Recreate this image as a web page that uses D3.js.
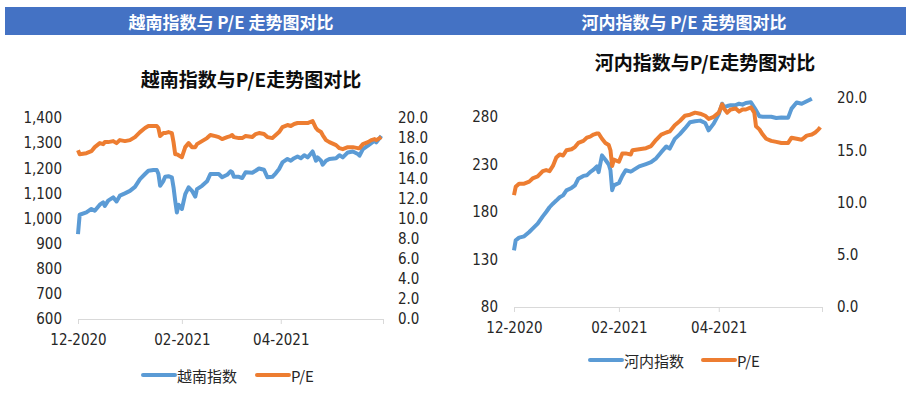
<!DOCTYPE html>
<html>
<head>
<meta charset="utf-8">
<script src="https://cdn.jsdelivr.net/npm/d3@7"></script>
<style>
  body { margin: 0; background: #fff; }
  .axis text { font-family: "DejaVu Sans Condensed", "Liberation Sans", sans-serif; font-size: 15px; fill: #262626; }
  .cjk { font-family: "Noto Sans CJK SC", sans-serif; }
</style>
</head>
<body>
<div id="chart"></div>
<script>
// x axis ticks (Excel date axis, 2 month major unit)
const xTicks = ["2020-12-01", "2021-02-01", "2021-04-01", "2021-06-01"];
const xTickLabels = ["12-2020", "02-2021", "04-2021", ""];

// 越南指数 vs P/E
const vnDates = [
  "2020-12-01","2020-12-02","2020-12-06","2020-12-09","2020-12-11","2020-12-14","2020-12-16","2020-12-17","2020-12-19","2020-12-22","2020-12-24","2020-12-26","2020-12-29",
  "2021-01-01","2021-01-04","2021-01-07","2021-01-10","2021-01-12","2021-01-15","2021-01-17","2021-01-18","2021-01-19","2021-01-21","2021-01-22","2021-01-24","2021-01-26","2021-01-27","2021-01-28","2021-01-29","2021-01-30",
  "2021-02-01","2021-02-03","2021-02-05","2021-02-07","2021-02-09","2021-02-10","2021-02-13","2021-02-16","2021-02-18","2021-02-21","2021-02-23","2021-02-25","2021-02-28",
  "2021-03-02","2021-03-03","2021-03-04","2021-03-07","2021-03-09","2021-03-11","2021-03-15","2021-03-17","2021-03-19","2021-03-22","2021-03-24","2021-03-27","2021-03-29","2021-03-31",
  "2021-04-02","2021-04-05","2021-04-07","2021-04-09","2021-04-11","2021-04-13","2021-04-15","2021-04-17","2021-04-20","2021-04-22","2021-04-23","2021-04-25","2021-04-26","2021-04-28","2021-04-30",
  "2021-05-04","2021-05-06","2021-05-08","2021-05-11","2021-05-14","2021-05-17","2021-05-18","2021-05-20","2021-05-23","2021-05-25","2021-05-27","2021-05-28","2021-05-30","2021-05-31"
];
const vnIndex = [
  938,1015,1024,1038,1031,1055,1064,1050,1071,1084,1068,1091,1100,
  1110,1126,1157,1177,1190,1193,1193,1177,1130,1150,1166,1168,1164,1124,1071,1024,1055,
  1038,1097,1124,1110,1087,1117,1130,1148,1177,1177,1177,1164,1174,
  1188,1184,1166,1166,1161,1184,1182,1190,1199,1194,1164,1166,1180,1197,
  1223,1237,1230,1240,1247,1240,1252,1243,1267,1230,1243,1230,1214,1230,1237,
  1240,1252,1243,1263,1267,1257,1250,1276,1290,1300,1310,1303,1320,1329
];
const vnPE = [
  16.8,16.4,16.5,16.7,17.1,17.5,17.4,17.6,17.6,17.7,17.5,17.8,17.7,
  17.8,18.1,18.6,19.0,19.2,19.2,19.2,19.0,18.2,18.5,18.5,18.6,18.5,17.6,16.4,16.4,16.3,
  16.1,17.1,17.5,17.1,17.1,17.4,17.7,18.0,18.3,18.2,18.1,17.9,18.1,
  18.2,18.3,18.1,18.0,18.0,18.2,18.1,18.4,18.5,18.4,18.1,18.0,18.3,18.6,
  19.1,19.3,19.2,19.4,19.5,19.5,19.5,19.5,19.7,19.0,18.8,18.6,18.3,17.8,17.6,
  17.3,17.0,16.9,17.1,17.1,17.0,17.0,17.4,17.6,17.8,17.9,17.8,18.0,18.1
];
const vnTicks = [600, 700, 800, 900, 1000, 1100, 1200, 1300, 1400];

// 河内指数 vs P/E
const hnDates = [
  "2020-12-01","2020-12-02","2020-12-04","2020-12-07","2020-12-10","2020-12-12","2020-12-15","2020-12-18","2020-12-20","2020-12-22","2020-12-24","2020-12-26","2020-12-28","2020-12-30",
  "2021-01-01","2021-01-04","2021-01-06","2021-01-08","2021-01-11","2021-01-13","2021-01-15","2021-01-17","2021-01-19","2021-01-20","2021-01-22","2021-01-24","2021-01-26","2021-01-27","2021-01-28","2021-01-29",
  "2021-02-01","2021-02-03","2021-02-05","2021-02-08","2021-02-09","2021-02-13","2021-02-17","2021-02-20","2021-02-23","2021-02-26",
  "2021-03-01","2021-03-03","2021-03-06","2021-03-09","2021-03-12","2021-03-15","2021-03-18","2021-03-21","2021-03-24","2021-03-26","2021-03-29",
  "2021-04-01","2021-04-03","2021-04-04","2021-04-06","2021-04-08","2021-04-11","2021-04-13","2021-04-15","2021-04-17","2021-04-20","2021-04-22","2021-04-23","2021-04-25","2021-04-27","2021-04-29",
  "2021-05-02","2021-05-05","2021-05-08","2021-05-12","2021-05-14","2021-05-17","2021-05-20","2021-05-23","2021-05-26","2021-05-28","2021-05-30","2021-05-31"
];
const hnIndex = [
  139.6,150.2,153,154.4,159,162.5,167.7,175.4,180,185,188.8,192,195.5,197.5,
  202.8,205.3,208,215,218,218.6,222,224.5,228,222,239.6,235,230,224,203,208,
  210.5,218,223.9,222.5,223.5,228,230.5,232.5,236.5,243,
  249,246.7,257,262,268,274.5,275.5,276.2,273.7,266,273,
  283,294,290.5,291.5,292.3,292.5,294,293,294.7,295.5,290,287,280.7,280.3,280.2,
  280.2,279,279.5,279.3,288.8,295.2,294,296.6,299.3,null,null,null
];
const hnPE = [
  10.7,11.5,11.8,11.8,12.0,12.3,12.5,13.0,13.1,13.0,13.5,14.3,14.6,14.5,
  15.0,15.1,15.3,15.7,15.9,16.2,16.3,16.5,16.6,16.6,16.1,15.7,15.5,15.0,13.5,14.1,
  13.9,14.7,14.7,14.6,15.0,15.1,15.2,15.4,16.0,16.5,
  16.7,16.8,17.4,17.8,18.3,18.4,18.6,18.5,18.3,18.0,18.2,
  18.6,19.4,19.0,18.6,18.9,19.0,18.7,18.9,18.9,19.1,18.6,17.3,17.0,16.5,16.1,
  15.9,15.8,15.7,15.7,16.2,16.1,16.0,16.4,16.5,16.7,17.0,17.2
];
const hnTicks = [80, 130, 180, 230, 280];

const peTicksVN = [0, 2, 4, 6, 8, 10, 12, 14, 16, 18, 20];
const peTicksHN = [0, 5, 10, 15, 20];

const headers = ["越南指数与 P/E 走势图对比", "河内指数与 P/E 走势图对比"];

const BLUE = "#5B9BD5", ORANGE = "#ED7D31";
const parse = d3.timeParse("%Y-%m-%d");

const svg = d3.select("#chart").append("svg")
  .attr("width", 911).attr("height", 393);

// header band
svg.append("rect")
  .attr("x", 5).attr("y", 7).attr("width", 901).attr("height", 28)
  .attr("fill", "#4472C4");
svg.selectAll(".hdr").data(headers).enter().append("text")
  .attr("class", "hdr cjk")
  .attr("x", (d, i) => i === 0 ? 231 : 684)
  .attr("y", 21)
  .attr("text-anchor", "middle")
  .attr("dominant-baseline", "central")
  .attr("font-size", "17px").attr("font-weight", "bold").attr("fill", "#fff")
  .text(d => d);

function drawChart(c) {
  const x = d3.scaleTime()
    .domain([parse(xTicks[0]), parse(xTicks[xTicks.length - 1])])
    .range([c.left, c.right]);
  const yL = d3.scaleLinear().domain(c.leftDomain).range([c.bottom, c.top]);
  const yR = d3.scaleLinear().domain([0, 20]).range([c.bottom, c.top]);

  const g = svg.append("g");

  // title
  g.append("text").attr("class", "cjk")
    .attr("x", c.titleX).attr("y", c.titleY)
    .attr("text-anchor", "middle").attr("dominant-baseline", "central")
    .attr("font-size", "19px").attr("font-weight", "bold").attr("fill", "#0d0d0d")
    .text(c.title);

  // x axis
  const xa = g.append("g").attr("class", "axis")
    .attr("transform", `translate(0,${c.bottom})`)
    .call(d3.axisBottom(x)
      .tickValues(xTicks.map(parse))
      .tickFormat((d, i) => xTickLabels[i])
      .tickSize(5).tickSizeOuter(0).tickPadding(10));
  xa.select(".domain").attr("stroke", "#d9d9d9");
  xa.selectAll(".tick line").attr("stroke", "#d9d9d9");

  // left axis
  const la = g.append("g").attr("class", "axis")
    .attr("transform", `translate(${c.left},0)`)
    .call(d3.axisLeft(yL).tickValues(c.leftTicks).tickFormat(c.leftFmt)
      .tickSize(0).tickPadding(16));
  la.select(".domain").remove();

  // right axis
  const ra = g.append("g").attr("class", "axis")
    .attr("transform", `translate(${c.right},0)`)
    .call(d3.axisRight(yR).tickValues(c.rightTicks).tickFormat(d3.format(".1f"))
      .tickSize(0).tickPadding(15));
  ra.select(".domain").remove();

  const dates = c.dates.map(parse);

  const idxLine = d3.line()
    .defined(d => d[1] != null)
    .x(d => x(d[0])).y(d => yL(d[1]));
  const peLine = d3.line()
    .defined(d => d[1] != null)
    .x(d => x(d[0])).y(d => yR(d[1]));

  g.append("path")
    .datum(dates.map((d, i) => [d, c.index[i]]))
    .attr("d", idxLine)
    .attr("fill", "none").attr("stroke", BLUE)
    .attr("stroke-width", 4).attr("stroke-linejoin", "round");

  g.append("path")
    .datum(dates.map((d, i) => [d, c.pe[i]]))
    .attr("d", peLine)
    .attr("fill", "none").attr("stroke", ORANGE)
    .attr("stroke-width", 4).attr("stroke-linejoin", "round");

  // legend
  const leg = g.append("g").attr("transform", `translate(${c.legX},${c.legY})`);
  const items = [[c.seriesName, BLUE, 0], ["P/E", ORANGE, c.legGap]];
  items.forEach(([name, col, dx]) => {
    leg.append("line")
      .attr("x1", dx).attr("x2", dx + 32).attr("y1", 0).attr("y2", 0)
      .attr("stroke", col).attr("stroke-width", 4).attr("stroke-linecap", "round");
    leg.append("text").attr("class", "cjk")
      .attr("x", dx + 34).attr("y", 0)
      .attr("dominant-baseline", "central")
      .attr("font-size", "15px").attr("fill", "#262626")
      .text(name);
  });
}

drawChart({
  title: "越南指数与P/E走势图对比", titleX: 251, titleY: 78,
  left: 78, right: 383, top: 118, bottom: 319,
  leftDomain: [600, 1400], leftTicks: vnTicks, leftFmt: d3.format(","),
  rightTicks: peTicksVN,
  dates: vnDates, index: vnIndex, pe: vnPE,
  seriesName: "越南指数", legX: 143, legY: 375, legGap: 114
});

drawChart({
  title: "河内指数与P/E走势图对比", titleX: 705, titleY: 61,
  left: 514, right: 822, top: 98, bottom: 307,
  leftDomain: [80, 300], leftTicks: hnTicks, leftFmt: d3.format("d"),
  rightTicks: peTicksHN,
  dates: hnDates, index: hnIndex, pe: hnPE,
  seriesName: "河内指数", legX: 590, legY: 360, legGap: 113
});
</script>
</body>
</html>
